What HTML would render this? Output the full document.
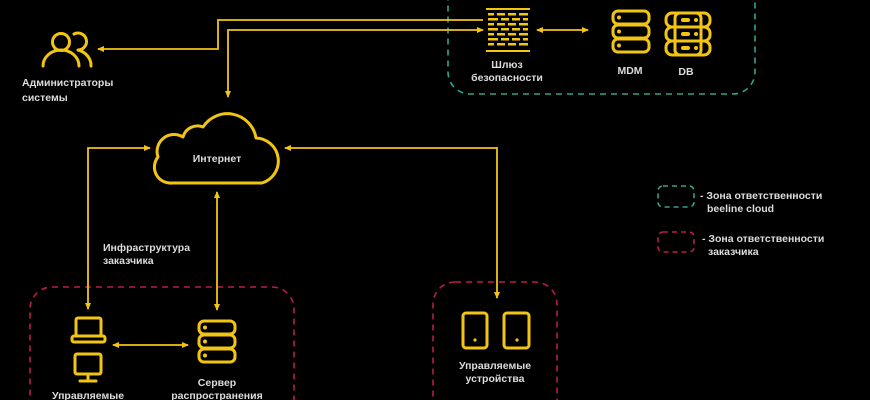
<!DOCTYPE html>
<html><head><meta charset="utf-8"><style>
html,body{margin:0;padding:0;background:#000;width:870px;height:400px;overflow:hidden;}
svg{display:block}
text{font-family:"Liberation Sans","Noto Sans CJK SC",sans-serif;font-weight:bold;fill:#dcdcdc;font-size:10.5px}
</style></head><body>
<svg width="870" height="400" viewBox="0 0 870 400" xmlns="http://www.w3.org/2000/svg">
<defs>
<marker id="a" markerWidth="8" markerHeight="8" refX="6" refY="4" orient="auto-start-reverse" markerUnits="userSpaceOnUse">
<path d="M0,1 L7,4 L0,7 Z" fill="#f2c511"/></marker>
</defs>
<g fill="none" stroke-width="1.6" stroke-dasharray="6,5">
<rect x="448" y="-30" width="307" height="124" rx="22" stroke="#2fa58c"/>
<rect x="30" y="287" width="264" height="140" rx="22" stroke="#b81d45"/>
<rect x="433" y="282" width="124" height="140" rx="22" stroke="#b81d45"/>
<rect x="658" y="186" width="36" height="21" rx="5" stroke="#2fa58c" stroke-dasharray="5,4"/>
<rect x="658" y="232" width="36" height="20" rx="5" stroke="#b81d45" stroke-dasharray="5,4"/>
</g>
<g fill="none" stroke="#f2c511" stroke-width="1.8">
<path d="M483,20 H218 V49 H98" marker-end="url(#a)"/>
<path d="M483,30 H228 V97" marker-end="url(#a)" marker-start="url(#a)"/>
<path d="M537,30 H588" marker-end="url(#a)" marker-start="url(#a)"/>
<path d="M150,148 H88 V309" marker-start="url(#a)" marker-end="url(#a)"/>
<path d="M217,192 V310" marker-start="url(#a)" marker-end="url(#a)"/>
<path d="M285,148 H497 V298" marker-start="url(#a)" marker-end="url(#a)"/>
<path d="M113,345 H188" marker-start="url(#a)" marker-end="url(#a)"/>
</g>
<g fill="none" stroke="#f2c511" stroke-width="3" stroke-linecap="round" stroke-linejoin="round">
<circle cx="61" cy="42" r="8.5"/>
<path d="M43,66 A18,16 0 0 1 79,66"/>
<path d="M74,34 A8.5,8.5 0 1 1 78,50 A18,16 0 0 1 91,66"/>
<path d="M172,183 A16,16 0 0 1 158,157 A17,17 0 0 1 183,137 A15,15 0 0 1 203,127 A29,29 0 0 1 256,138 A23,23 0 0 1 262,183 Z"/>
<rect x="613" y="11" width="36" height="13" rx="5"/>
<rect x="613" y="25" width="36" height="13" rx="5"/>
<rect x="613" y="39" width="36" height="13" rx="5"/>
<rect x="666" y="13" width="44" height="14" rx="6"/>
<rect x="666" y="27" width="44" height="14" rx="6"/>
<rect x="666" y="41" width="44" height="14" rx="6"/>
<rect x="675" y="13" width="26" height="42" rx="5"/>
<rect x="199" y="321" width="36" height="13" rx="5"/>
<rect x="199" y="335" width="36" height="13" rx="5"/>
<rect x="199" y="349" width="36" height="13" rx="5"/>
<rect x="76" y="318" width="25" height="18" rx="2"/>
<rect x="72" y="336" width="33" height="6" rx="2"/>
<rect x="75" y="354" width="26" height="20" rx="2"/>
<path d="M88,374 V380 M80,381 H96"/>
<rect x="463" y="313" width="24" height="35" rx="3"/>
<rect x="504" y="313" width="25" height="35" rx="3"/>
</g>
<g fill="#f2c511">
<circle cx="619" cy="17.5" r="2"/><circle cx="619" cy="31.5" r="2"/><circle cx="619" cy="45.5" r="2"/>
<circle cx="205" cy="327.5" r="2"/><circle cx="205" cy="341.5" r="2"/><circle cx="205" cy="355.5" r="2"/>
<rect x="681" y="18" width="9" height="4" rx="2"/><circle cx="696" cy="20" r="2"/>
<rect x="681" y="32" width="9" height="4" rx="2"/><circle cx="696" cy="34" r="2"/>
<rect x="681" y="46" width="9" height="4" rx="2"/><circle cx="696" cy="48" r="2"/>
<circle cx="475" cy="340" r="1.6"/><circle cx="517" cy="340" r="1.6"/>
<rect x="486" y="8" width="44" height="2"/><rect x="486" y="50" width="44" height="2"/>
<rect x="488" y="13" width="6" height="2.5"/><rect x="497" y="13" width="8" height="2.5"/><rect x="508" y="13" width="8" height="2.5"/><rect x="519" y="13" width="9" height="2.5"/>
<rect x="488" y="18" width="10" height="2.5"/><rect x="501" y="18" width="8" height="2.5"/><rect x="512" y="18" width="8" height="2.5"/><rect x="523" y="18" width="5" height="2.5"/>
<rect x="488" y="23" width="6" height="2.5"/><rect x="497" y="23" width="8" height="2.5"/><rect x="508" y="23" width="8" height="2.5"/><rect x="519" y="23" width="9" height="2.5"/>
<rect x="488" y="28" width="10" height="2.5"/><rect x="501" y="28" width="8" height="2.5"/><rect x="512" y="28" width="8" height="2.5"/><rect x="523" y="28" width="5" height="2.5"/>
<rect x="488" y="33" width="6" height="2.5"/><rect x="497" y="33" width="8" height="2.5"/><rect x="508" y="33" width="8" height="2.5"/><rect x="519" y="33" width="9" height="2.5"/>
<rect x="488" y="38" width="10" height="2.5"/><rect x="501" y="38" width="8" height="2.5"/><rect x="512" y="38" width="8" height="2.5"/><rect x="523" y="38" width="5" height="2.5"/>
<rect x="488" y="43" width="6" height="2.5"/><rect x="497" y="43" width="8" height="2.5"/><rect x="508" y="43" width="8" height="2.5"/><rect x="519" y="43" width="9" height="2.5"/>
</g>
<text x="22" y="86">Администраторы</text>
<text x="22" y="101">системы</text>
<text x="507" y="68" text-anchor="middle">Шлюз</text>
<text x="507" y="81" text-anchor="middle">безопасности</text>
<text x="630" y="74" text-anchor="middle">MDM</text>
<text x="686" y="75" text-anchor="middle">DB</text>
<text x="217" y="162" text-anchor="middle">Интернет</text>
<text x="103" y="251">Инфраструктура</text>
<text x="103" y="264">заказчика</text>
<text x="217" y="386" text-anchor="middle">Сервер</text>
<text x="217" y="399" text-anchor="middle">распространения</text>
<text x="88" y="399" text-anchor="middle">Управляемые</text>
<text x="495" y="369" text-anchor="middle">Управляемые</text>
<text x="495" y="382" text-anchor="middle">устройства</text>
<text x="700" y="199">- Зона ответственности</text>
<text x="707" y="212">beeline cloud</text>
<text x="702" y="242">- Зона ответственности</text>
<text x="708" y="255">заказчика</text>
</svg>
</body></html>
